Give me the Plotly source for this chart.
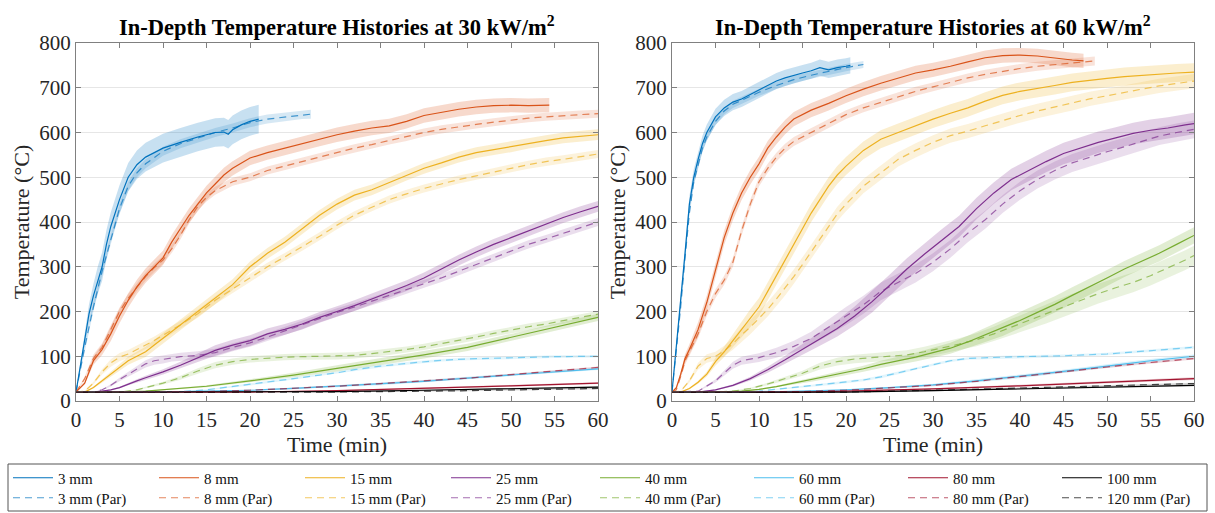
import plotly.graph_objects as go

# ---------------- series labels and colours ----------------
DEPTH_LABELS = ["3 mm", "8 mm", "15 mm", "25 mm", "40 mm", "60 mm", "80 mm", "100 mm"]
PAR_LABELS = ["3 mm (Par)", "8 mm (Par)", "15 mm (Par)", "25 mm (Par)",
              "40 mm (Par)", "60 mm (Par)", "80 mm (Par)", "120 mm (Par)"]
COLORS = ["#0072BD", "#D95319", "#EDB120", "#7E2F8E",
          "#77AC30", "#4DBEEE", "#A2142F", "#000000"]

X_TICKS = list(range(0, 61, 5))
Y_TICKS = list(range(0, 801, 100))

# ---------------- 30 kW/m2 : measured (solid) ----------------
t30_3 = [0, 0.5, 1, 1.5, 2, 2.5, 3, 3.5, 4, 5, 6, 7, 8, 9, 10, 12, 14, 16, 17, 17.5, 18, 19, 20, 21]
T30_3 = [20, 80, 140, 195, 235, 270, 300, 350, 390, 450, 500, 528, 545, 555, 565, 578, 590, 600, 601, 596, 606, 617, 625, 630]
t30_8 = [0, 1, 2, 3, 4, 5, 6, 7, 8, 9, 10, 11, 12, 13, 14, 15, 16, 17, 18, 19, 20, 22, 24, 26, 28, 30,
         32, 34, 36, 38, 40, 42, 44, 46, 48, 50, 52, 54.4]
T30_8 = [20, 40, 90, 115, 150, 190, 225, 255, 280, 300, 320, 355, 385, 415, 440, 465, 485, 505, 520, 532, 543, 555, 565, 575, 585, 595,
         603, 610, 615, 625, 638, 645, 652, 657, 660, 661, 660, 661]
t30_15 = [0, 1, 2, 3, 4, 5, 6, 7, 8, 9, 10, 12, 14, 16, 18, 20, 22, 24, 26, 28, 30, 32, 34, 36, 38, 40,
          42, 44, 46, 48, 50, 52, 54, 56, 58, 60]
T30_15 = [20, 20, 30, 45, 60, 75, 90, 100, 110, 125, 140, 170, 200, 228, 260, 300, 330, 355, 385, 415, 440, 460, 472, 488, 505, 520,
          532, 545, 555, 562, 568, 576, 582, 588, 592, 595]
t30_25 = [0, 2, 3, 4, 5, 6, 7, 8, 9, 10, 12, 14, 16, 18, 20, 22, 24, 26, 28, 30, 32, 34, 36, 38, 40,
          42, 44, 46, 48, 50, 52, 54, 56, 58, 60]
T30_25 = [20, 20, 22, 25, 30, 38, 45, 52, 58, 65, 80, 97, 113, 125, 135, 150, 160, 172, 187, 200, 213, 228, 243, 258, 275,
          295, 315, 333, 350, 365, 380, 395, 410, 423, 435]
t30_40 = [0, 5, 8, 10, 15, 20, 25, 30, 35, 40, 45, 50, 55, 60]
T30_40 = [20, 20, 22, 25, 33, 45, 58, 73, 88, 103, 120, 142, 165, 187]
t30_60 = [0, 10, 15, 20, 25, 30, 35, 40, 45, 50, 55, 60]
T30_60 = [20, 20, 22, 24, 28, 33, 38, 44, 51, 58, 65, 72]
t30_80 = [0, 20, 30, 40, 50, 60]
T30_80 = [20, 20, 23, 28, 34, 40]
t30_100 = [0, 30, 40, 50, 60]
T30_100 = [20, 21, 24, 27, 31]

# ---------------- 30 kW/m2 : Par model (dashed) ----------------
p30_3 = [0, 1, 2, 3, 4, 5, 6, 7, 8, 10, 12, 14, 16, 18, 20, 22, 24, 26, 27]
P30_3 = [20, 120, 210, 290, 360, 430, 480, 510, 530, 558, 575, 588, 600, 610, 622, 630, 635, 640, 641]
p30_8 = [0, 1, 2, 3, 4, 5, 6, 7, 8, 9, 10, 11, 12, 13, 14, 15, 16, 17, 18, 20, 22, 24, 26, 28, 30,
         32, 34, 36, 38, 40, 42, 44, 46, 48, 50, 52, 54, 56, 58, 60]
P30_8 = [20, 50, 95, 120, 160, 200, 230, 255, 278, 298, 315, 340, 370, 405, 435, 455, 470, 480, 490, 500, 515, 525, 535, 545, 555,
         565, 573, 582, 590, 600, 607, 613, 618, 623, 628, 632, 635, 638, 640, 642]
p30_15 = [0, 1, 2, 3, 4, 5, 6, 7, 8, 9, 10, 12, 14, 16, 18, 20, 22, 24, 26, 28, 30, 32, 34, 36, 38, 40,
          42, 44, 46, 48, 50, 52, 54, 56, 58, 60]
P30_15 = [20, 22, 40, 65, 85, 98, 105, 115, 125, 135, 147, 170, 195, 225, 250, 275, 300, 322, 345, 368, 393, 415, 433, 450, 463, 475,
          485, 495, 503, 512, 520, 528, 535, 540, 546, 552]
p30_25 = [0, 2, 3, 4, 5, 6, 7, 8, 9, 10, 11, 12, 14, 16, 18, 20, 22, 24, 26, 28, 30, 32, 34, 36, 38, 40,
          42, 44, 46, 48, 50, 52, 54, 56, 58, 60]
P30_25 = [20, 20, 25, 35, 48, 60, 72, 83, 90, 93, 97, 99, 102, 108, 120, 130, 143, 157, 170, 185, 198, 210, 223, 235, 248, 262,
          275, 290, 305, 320, 335, 350, 362, 375, 388, 400]
p30_40 = [0, 5, 7, 8, 10, 12, 14, 16, 18, 20, 22, 24, 26, 28, 30, 32, 34, 36, 38, 40,
          42, 44, 46, 48, 50, 52, 54, 56, 58, 60]
P30_40 = [20, 20, 25, 30, 40, 52, 67, 80, 88, 93, 96, 98, 99, 100, 100, 102, 106, 110, 115, 121,
          128, 135, 143, 151, 159, 166, 172, 180, 187, 194]
p30_60 = [0, 10, 12, 15, 18, 20, 22, 25, 28, 30, 32, 35, 38, 40, 42, 45, 50, 55, 60]
P30_60 = [20, 20, 21, 25, 32, 37, 42, 50, 58, 63, 70, 78, 84, 88, 91, 94, 97, 99, 100]
p30_80 = [0, 10, 15, 20, 25, 30, 35, 40, 45, 50, 55, 60]
P30_80 = [20, 20, 21, 24, 28, 33, 39, 45, 51, 59, 67, 75]
p30_120 = [0, 30, 45, 60]
P30_120 = [20, 20, 23, 28]

# ---------------- 60 kW/m2 : measured (solid) ----------------
t60_3 = [0, 0.5, 1, 1.5, 2, 2.5, 3, 3.5, 4, 5, 6, 7, 8, 9, 10, 11, 12, 13, 14, 15, 16, 17, 18, 19, 20, 20.5]
T60_3 = [20, 120, 220, 330, 440, 500, 540, 575, 600, 635, 655, 668, 675, 685, 695, 705, 715, 722, 728, 733, 738, 745, 740, 745, 748, 750]
t60_8 = [0, 0.5, 1, 1.5, 2, 3, 4, 5, 6, 7, 8, 9, 10, 11, 12, 13, 14, 16, 18, 20, 22, 24, 26, 28, 30,
         32, 34, 36, 38, 40, 42, 44, 46, 47.3]
T60_8 = [20, 30, 60, 95, 115, 160, 220, 290, 365, 420, 465, 500, 530, 565, 590, 612, 630, 650, 665, 682, 697, 710, 722, 733, 740,
         748, 758, 767, 772, 773, 771, 766, 762, 760]
t60_15 = [0, 1, 2, 3, 4, 5, 6, 7, 8, 9, 10, 11, 12, 13, 14, 15, 16, 17, 18, 19, 20, 22, 24, 26, 28, 30,
          32, 34, 36, 38, 40, 42, 44, 46, 48, 50, 52, 54, 56, 58, 60]
T60_15 = [20, 20, 28, 42, 60, 88, 110, 135, 160, 185, 210, 245, 280, 315, 350, 385, 420, 450, 480, 505, 525, 560, 585, 600, 615, 630,
          643, 655, 670, 683, 692, 698, 705, 712, 717, 721, 725, 728, 731, 733, 735]
t60_25 = [0, 3, 5, 7, 9, 11, 13, 15, 17, 19, 21, 23, 25, 27, 29, 31, 33, 35, 37, 39, 41,
          43, 45, 47, 49, 51, 53, 55, 57, 59, 60]
T60_25 = [20, 20, 25, 35, 50, 70, 92, 115, 138, 162, 190, 222, 258, 295, 328, 360, 390, 430, 465, 495, 515,
          535, 553, 565, 578, 588, 598, 605, 610, 617, 620]
t60_40 = [0, 5, 8, 10, 12, 14, 16, 18, 20, 22, 24, 26, 28, 30, 32, 34, 36, 38, 40,
          42, 44, 46, 48, 50, 52, 54, 56, 58, 60]
T60_40 = [20, 20, 22, 26, 32, 40, 47, 55, 63, 72, 82, 90, 98, 108, 118, 132, 148, 163, 180,
          198, 216, 236, 255, 275, 295, 313, 330, 350, 370]
t60_60 = [0, 10, 15, 20, 25, 30, 35, 40, 45, 50, 55, 60]
T60_60 = [20, 20, 22, 25, 30, 36, 45, 55, 66, 78, 90, 100]
t60_80 = [0, 15, 20, 30, 40, 50, 60]
T60_80 = [20, 20, 22, 27, 34, 42, 50]
t60_100 = [0, 20, 30, 40, 50, 60]
T60_100 = [20, 20, 23, 27, 31, 35]

# ---------------- 60 kW/m2 : Par model (dashed) ----------------
p60_3 = [0, 0.5, 1, 1.5, 2, 2.5, 3, 3.5, 4, 5, 6, 7, 8, 10, 12, 14, 16, 18, 20, 22]
P60_3 = [20, 110, 210, 320, 420, 490, 530, 565, 590, 625, 648, 663, 672, 690, 705, 718, 728, 737, 745, 752]
p60_8 = [0, 0.5, 1, 1.5, 2, 3, 4, 5, 6, 7, 8, 9, 10, 11, 12, 13, 14, 16, 18, 20, 22, 24, 26, 28, 30,
         32, 34, 36, 38, 40, 42, 44, 46, 48.6]
P60_8 = [20, 25, 55, 90, 110, 150, 200, 240, 270, 310, 380, 440, 490, 520, 545, 565, 580, 600, 620, 640, 655, 667, 680, 692, 702,
         712, 722, 730, 737, 743, 748, 752, 756, 760]
p60_15 = [0, 1, 2, 3, 4, 5, 6, 7, 8, 9, 10, 11, 12, 13, 14, 15, 16, 17, 18, 19, 20, 22, 24, 26, 28, 30,
          32, 34, 36, 38, 40, 42, 44, 46, 48, 50, 52, 54, 56, 58, 60]
P60_15 = [20, 22, 45, 78, 95, 100, 112, 128, 148, 165, 185, 205, 228, 252, 278, 305, 333, 362, 390, 418, 440, 480, 510, 540, 560, 578,
          593, 603, 615, 627, 638, 648, 657, 665, 675, 682, 690, 697, 704, 710, 715]
p60_25 = [0, 3, 5, 7, 8, 10, 12, 14, 16, 18, 20, 22, 24, 26, 28, 30, 32, 34, 36, 38, 40,
          42, 44, 46, 48, 50, 52, 54, 56, 58, 60]
P60_25 = [20, 22, 45, 80, 90, 97, 108, 122, 140, 165, 190, 215, 245, 265, 285, 310, 340, 375, 405, 440, 470,
          495, 515, 532, 545, 557, 568, 580, 592, 600, 607]
p60_40 = [0, 5, 7, 9, 11, 13, 15, 17, 19, 21, 23, 25, 27, 29, 31, 33, 35, 37, 39, 41,
          43, 45, 47, 49, 51, 53, 55, 57, 59, 60]
P60_40 = [20, 20, 22, 28, 38, 50, 62, 78, 88, 94, 97, 100, 103, 110, 118, 127, 137, 150, 165, 180,
          195, 210, 225, 240, 253, 265, 280, 297, 315, 325]
p60_60 = [0, 8, 10, 12, 14, 16, 18, 20, 22, 24, 26, 28, 30, 32, 34, 36, 38, 40, 45, 50, 55, 60]
P60_60 = [20, 20, 22, 26, 30, 34, 38, 42, 47, 54, 63, 73, 82, 90, 95, 97, 98, 99, 101, 105, 112, 120]
p60_80 = [0, 10, 15, 20, 25, 30, 35, 40, 45, 50, 55, 60]
P60_80 = [20, 20, 21, 24, 29, 35, 44, 55, 65, 76, 86, 95]
p60_120 = [0, 20, 30, 40, 50, 60]
P60_120 = [20, 20, 24, 29, 34, 39]

# band half-widths (deg C) for the measured scatter and model spread
BAND30_MEAS = [32, 16, 12, 12, 8, 3, 2, 2]
BAND30_PAR = [10, 9, 9, 9, 7, 3, 2, 2]
BAND60_MEAS = [18, 16, 20, 24, 18, 4, 3, 2]
BAND60_PAR = [8, 10, 16, 20, 22, 3, 2, 2]

PANELS = [
    {
        "title": "In-Depth Temperature Histories at 30 kW/m<sup>2</sup>",
        "meas": [(t30_3, T30_3), (t30_8, T30_8), (t30_15, T30_15), (t30_25, T30_25),
                 (t30_40, T30_40), (t30_60, T30_60), (t30_80, T30_80), (t30_100, T30_100)],
        "par": [(p30_3, P30_3), (p30_8, P30_8), (p30_15, P30_15), (p30_25, P30_25),
                (p30_40, P30_40), (p30_60, P30_60), (p30_80, P30_80), (p30_120, P30_120)],
        "band_meas": BAND30_MEAS, "band_par": BAND30_PAR,
    },
    {
        "title": "In-Depth Temperature Histories at 60 kW/m<sup>2</sup>",
        "meas": [(t60_3, T60_3), (t60_8, T60_8), (t60_15, T60_15), (t60_25, T60_25),
                 (t60_40, T60_40), (t60_60, T60_60), (t60_80, T60_80), (t60_100, T60_100)],
        "par": [(p60_3, P60_3), (p60_8, P60_8), (p60_15, P60_15), (p60_25, P60_25),
                (p60_40, P60_40), (p60_60, P60_60), (p60_80, P60_80), (p60_120, P60_120)],
        "band_meas": BAND60_MEAS, "band_par": BAND60_PAR,
    },
]

FONT = "Liberation Serif, Times New Roman, serif"

# figure geometry (pixels)
W, H = 1215, 513
ML, MR, MT, MB = 76, 21, 43, 112
PW, PH = W - ML - MR, H - MT - MB


def px_x(x):
    return (x - ML) / PW


def px_y(y):
    return (H - MB - y) / PH


def rgba(hex_color, a):
    h = hex_color.lstrip("#")
    r, g, b = int(h[0:2], 16), int(h[2:4], 16), int(h[4:6], 16)
    return f"rgba({r},{g},{b},{a})"


def band_trace(t, T, half, color, alpha, xa, ya):
    # half-width shrinks near ambient so the band hugs the flat start
    hw = [min(half, 0.12 * (v - 20) + 0.6) for v in T]
    upper = [v + h for v, h in zip(T, hw)]
    lower = [v - h for v, h in zip(T, hw)]
    return go.Scatter(
        x=list(t) + list(t)[::-1], y=upper + lower[::-1],
        fill="toself", fillcolor=rgba(color, alpha), line=dict(width=0),
        mode="lines", hoverinfo="skip", showlegend=False, xaxis=xa, yaxis=ya,
    )


fig = go.Figure()

for k, panel in enumerate(PANELS):
    xa = "x" if k == 0 else "x2"
    ya = "y" if k == 0 else "y2"
    # shaded spreads first
    for i in range(8):
        t, T = panel["par"][i]
        fig.add_trace(band_trace(t, T, panel["band_par"][i], COLORS[i], 0.16, xa, ya))
        t, T = panel["meas"][i]
        fig.add_trace(band_trace(t, T, panel["band_meas"][i], COLORS[i], 0.22, xa, ya))

# legend blocks: row 1 solid / row 2 dashed, split into left and right halves
LEG_SOLID = ["legend", "legend2"]
LEG_PAR = ["legend3", "legend4"]

for k, panel in enumerate(PANELS):
    xa = "x" if k == 0 else "x2"
    ya = "y" if k == 0 else "y2"
    for i in range(8):
        t, T = panel["meas"][i]
        fig.add_trace(go.Scatter(
            x=t, y=T, mode="lines", name=DEPTH_LABELS[i],
            legend=LEG_SOLID[i // 4],
            line=dict(color=COLORS[i], width=1.2),
            showlegend=(k == 0), xaxis=xa, yaxis=ya,
        ))
    for i in range(8):
        t, T = panel["par"][i]
        fig.add_trace(go.Scatter(
            x=t, y=T, mode="lines", name=PAR_LABELS[i],
            legend=LEG_PAR[i // 4],
            line=dict(color=rgba(COLORS[i], 0.7), width=1.2, dash="7px,5px"),
            showlegend=(k == 0), xaxis=xa, yaxis=ya,
        ))

axis_common = dict(
    showline=True, linecolor="#808080", linewidth=1.2, mirror="ticks",
    ticks="inside", ticklen=5, tickcolor="#808080",
    tickfont=dict(family=FONT, size=21, color="#262626"),
    zeroline=False,
)
xaxis_cfg = dict(axis_common, range=[0, 60], tickvals=X_TICKS, showgrid=False,
                 title=dict(text="Time (min)", font=dict(family=FONT, size=22, color="#262626"), standoff=2))
yaxis_cfg = dict(axis_common, range=[0, 800], tickvals=Y_TICKS, showgrid=True,
                 gridcolor="#e6e6e6", gridwidth=1,
                 title=dict(text="Temperature (°C)", font=dict(family=FONT, size=22, color="#262626"), standoff=3))


def legend_block(x_px, y_px, entry_w):
    return dict(
        orientation="h", x=px_x(x_px), xanchor="left", y=px_y(y_px), yanchor="middle",
        bgcolor="rgba(0,0,0,0)", borderwidth=0,
        font=dict(family=FONT, size=15, color="#111111"),
        itemwidth=40, entrywidth=entry_w, traceorder="normal",
    )


split = (598 - 76) / PW
fig.update_layout(
    width=W, height=H,
    margin=dict(l=ML, r=MR, t=MT, b=MB, autoexpand=False),
    paper_bgcolor="white", plot_bgcolor="white",
    xaxis=dict(xaxis_cfg, domain=[0, split], anchor="y"),
    yaxis=dict(yaxis_cfg, domain=[0, 1], anchor="x"),
    xaxis2=dict(xaxis_cfg, domain=[1 - split, 1], anchor="y2"),
    yaxis2=dict(yaxis_cfg, domain=[0, 1], anchor="x2"),
    showlegend=True,
    legend=legend_block(8, 478, 91),
    legend2=legend_block(595, 478, 99),
    legend3=legend_block(8, 498, 91),
    legend4=legend_block(595, 498, 99),
    shapes=[dict(type="rect", xref="paper", yref="paper",
                 x0=px_x(8), x1=px_x(1207), y0=px_y(464), y1=px_y(511),
                 line=dict(color="#555555", width=1), fillcolor="rgba(0,0,0,0)", layer="below")],
    annotations=[
        dict(text="<b>" + PANELS[0]["title"] + "</b>", x=split / 2, y=1.0, xref="paper", yref="paper",
             xanchor="center", yanchor="bottom", yshift=1, showarrow=False,
             font=dict(family=FONT, size=22.5, color="#000000")),
        dict(text="<b>" + PANELS[1]["title"] + "</b>", x=1 - split / 2, y=1.0, xref="paper", yref="paper",
             xanchor="center", yanchor="bottom", yshift=1, showarrow=False,
             font=dict(family=FONT, size=22.5, color="#000000")),
    ],
)

fig.write_html("out.html")
